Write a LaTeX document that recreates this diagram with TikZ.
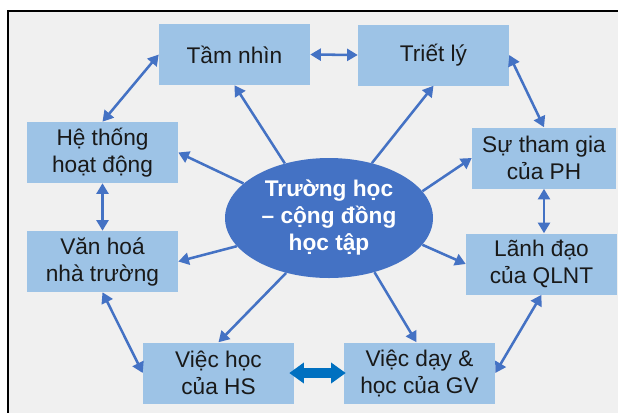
\documentclass[tikz,border=0pt]{standalone}
\usepackage{fontspec}
\setmainfont{Liberation Sans}
\usetikzlibrary{arrows.meta,shapes.geometric}
\newdimen\pxu \pxu=0.75pt
\definecolor{boxblue}{RGB}{157,195,230}
\definecolor{ellblue}{RGB}{68,114,196}
\definecolor{arrblue}{RGB}{68,114,196}
\definecolor{thickblue}{RGB}{0,112,192}
\definecolor{bggray}{RGB}{240,240,240}
\tikzset{
  box/.style={fill=boxblue, draw=none, minimum width=151\pxu, minimum height=61\pxu,
    inner sep=0pt, align=center, font=\fontsize{17}{20.25}\selectfont, text=black!90},
  hub/.style={ellipse, fill=ellblue, draw=none, minimum width=208\pxu, minimum height=120\pxu,
    inner sep=0pt, align=center, font=\fontsize{17}{20.25}\selectfont\bfseries, text=white},
  conn/.style={draw=arrblue, line width=1.9pt, -{Triangle[length=8pt,width=9pt]}},
  dconn/.style={draw=arrblue, line width=1.9pt, {Triangle[length=8pt,width=9pt]}-{Triangle[length=8pt,width=9pt]}},
  bigconn/.style={draw=thickblue, line width=7.5pt,
    {Triangle[length=11pt,width=15pt]}-{Triangle[length=11pt,width=15pt]}}
}
\begin{document}
\begin{tikzpicture}[x=0.75pt,y=-0.75pt]
\useasboundingbox (0,0) rectangle (618,412);
\fill[white] (0,0) rectangle (618,412);
\fill[bggray] (8,11) rectangle (620,414);
\draw[black, line width=1.6pt] (8,414) -- (8,11) -- (620,11);

\node[box] (tn) at (234.5,54.5) {Tầm nhìn};
\node[box] (tl) at (433.5,55) {Triết lý};
\node[box] (ht) at (102.5,152.5) {Hệ thống\\hoạt động};
\node[box] (vh) at (102.5,261.5) {Văn hoá\\nhà trường};
\node[box] (hs) at (218.5,373) {Việc học\\của HS};
\node[box] (gv) at (419.5,373) {Việc dạy \&\\học của GV};
\node[box, minimum width=144\pxu] (ph) at (544,158) {Sự tham gia\\của PH};
\node[box] (ld) at (541.5,264) {Lãnh đạo\\của QLNT};

\node[hub] (hub) at (329,218) {Trường học\\– cộng đồng\\học tập};

% hub to boxes
\draw[conn] (hub.129) -- (tn.south);
\draw[conn] (hub.52) -- (tl.south);
\draw[conn] (hub.158) -- (ht.east);
\draw[conn] (hub.197) -- (vh.east);
\draw[conn] (hub.232) -- (hs.north);
\draw[conn] (hub.-50) -- ([xshift=-3\pxu]gv.north);
\draw[conn] (hub.16) -- (ph.west);
\draw[conn] (hub.-16) -- (ld.west);

% ring
\draw[dconn] (tn.east) -- (tl.west);
\draw[dconn] (tl.east) -- (ph.north);
\draw[dconn] (ph.south) -- (ph.south |- ld.north);
\draw[dconn] (ld.south) -- (gv.east);
\draw[dconn] (vh.south) -- (hs.west);
\draw[dconn] (ht.south) -- (vh.north);
\draw[dconn] (ht.north) -- (tn.west);
\draw[bigconn, shorten <=-5\pxu, shorten >=-2\pxu] (hs.east) -- (gv.west);
\end{tikzpicture}
\end{document}
